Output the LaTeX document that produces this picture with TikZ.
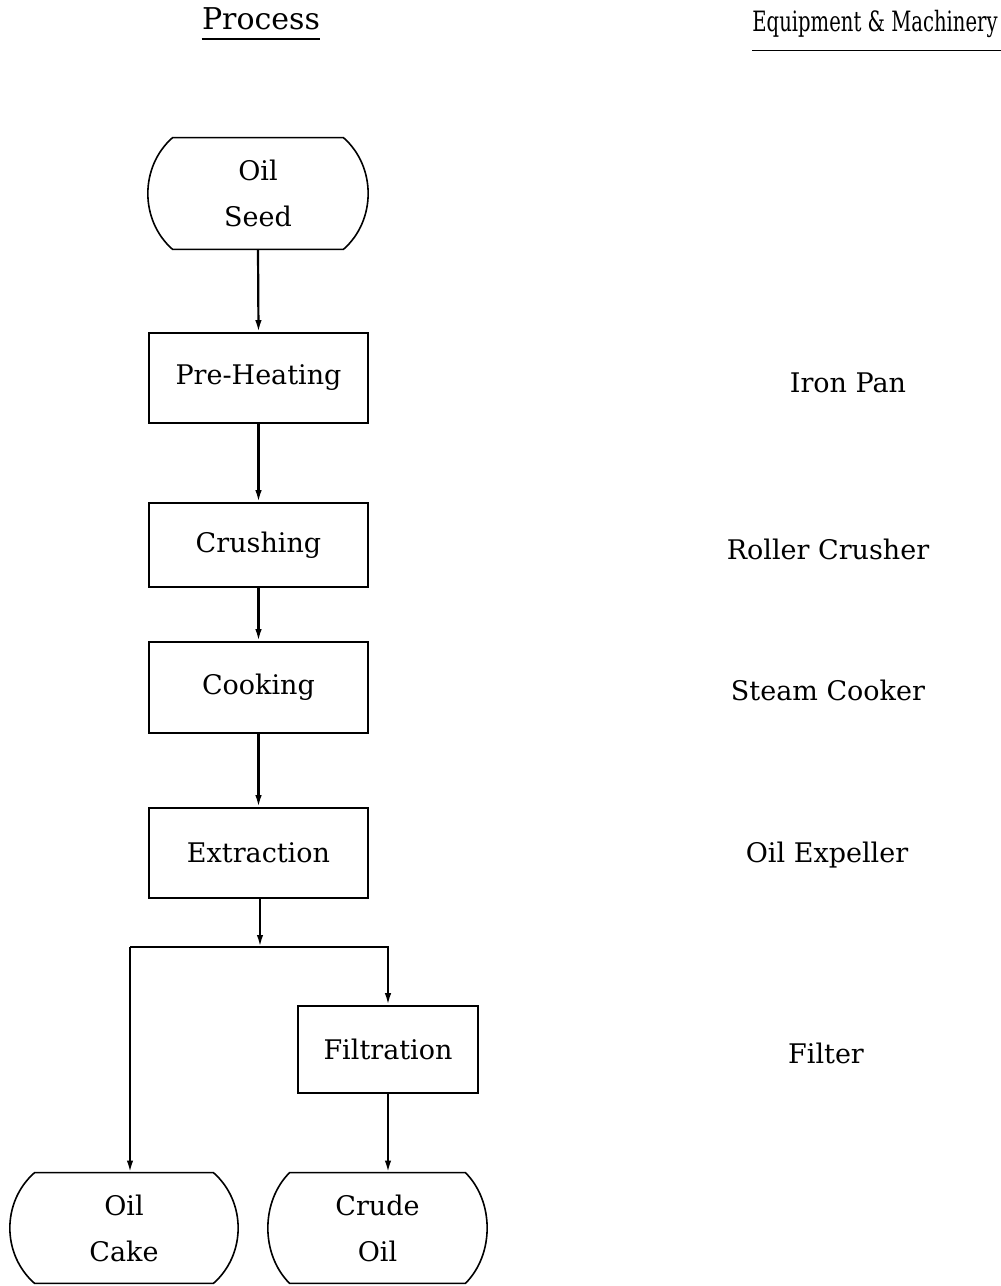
\documentclass[tikz,border=0pt]{standalone}
\usepackage{fontspec}
\setmainfont{DejaVu Serif}
\usetikzlibrary{arrows.meta,calc}
\newcommand\termoutline[3]{%
\draw[termline] ($(#1.north west)+(#2,0)$) -- ($(#1.north east)+(-#2,0)$)
 .. controls ($(#1.north east)+(-#2+#3,29)$) and ($(#1.south east)+(-#2+#3,-29)$) .. ($(#1.south east)+(-#2,0)$)
 -- ($(#1.south west)+(#2,0)$)
 .. controls ($(#1.south west)+(#2-#3,-29)$) and ($(#1.north west)+(#2-#3,29)$) .. ($(#1.north west)+(#2,0)$) -- cycle;}
\begin{document}
\begin{tikzpicture}[x=0.5pt,y=-0.5pt,
  txt/.style={font=\fontsize{13.5}{23}\selectfont},
  procbox/.style={draw, line width=0.8pt, inner sep=0pt, minimum width=109.5pt, txt},
  term/.style={draw=none, inner sep=0pt, align=center, txt},
  termline/.style={line width=0.8pt},
  arr/.style={line width=1.1pt, -{Latex[length=6pt,width=3.2pt]}},
  conn/.style={line width=1.1pt},
  equip/.style={txt, anchor=center},
  head/.style={font=\fontsize{15}{18}\selectfont, inner xsep=0pt},
  uline/.style={line width=0.9pt}]
\useasboundingbox (0,0) rectangle (1001,1286);

% headings
\node[head] (proc) at (261,19) {Process};
\node[head, font=\fontsize{14}{18}\selectfont] (equi) at (875,24) {\scalebox{0.7}[1]{Equipment \& Machinery}};
\draw[uline] ([yshift=-4.5pt]proc.base west) -- ([yshift=-4.5pt]proc.base east);
\draw[uline] ([yshift=-9.5pt]equi.base west) -- ([yshift=-9.5pt,xshift=10pt]equi.base east);

% terminals
\node[term, minimum width=110pt, minimum height=55.5pt] (seed) at (258,193.5) {Oil\\Seed};
\termoutline{seed}{25}{33}
\node[term, minimum width=114pt, minimum height=55pt] (cake) at (124,1228) {Oil\\Cake};
\termoutline{cake}{25}{33}
\node[term, minimum width=109.5pt, minimum height=55pt] (crude) at (377.5,1228) {Crude\\Oil};
\termoutline{crude}{22}{29}

% process boxes
\node[procbox, minimum height=45pt] (pre) at (258.5,378) {Pre-Heating};
\node[procbox, minimum height=42pt] (crush) at (258.5,545) {Crushing};
\node[procbox, minimum height=45.5pt] (cook) at (258.5,687.5) {Cooking};
\node[procbox, minimum height=45pt] (extr) at (258.5,853) {Extraction};
\node[procbox, minimum width=90pt, minimum height=43.5pt] (filt) at (388,1049.5) {Filtration};

% equipment labels
\node[equip] (iron) at (848,383) {Iron Pan};
\node[equip] (roll) at (828,549) {Roller Crusher};
\node[equip] (steam) at (828,690) {Steam Cooker};
\node[equip] (expel) at (827,855) {Oil Expeller};
\node[equip] (filter) at (826,1053) {Filter};

% connectors
\draw[arr] (seed.south) -- (pre.north);
\draw[arr] (pre.south) -- (crush.north);
\draw[arr] (crush.south) -- (cook.north);
\draw[arr] (cook.south) -- (extr.north);
\coordinate (j) at (260,947);
\coordinate (jl) at (130,947);
\draw[arr] (extr.south -| j) -- (j);
\draw[conn] (j) -- (jl);
\draw[arr] (jl) -- (jl |- cake.north);
\draw[arr] (j) -| (filt.north);
\draw[arr] (filt.south) -- (filt.south |- crude.north);
\end{tikzpicture}
\end{document}
